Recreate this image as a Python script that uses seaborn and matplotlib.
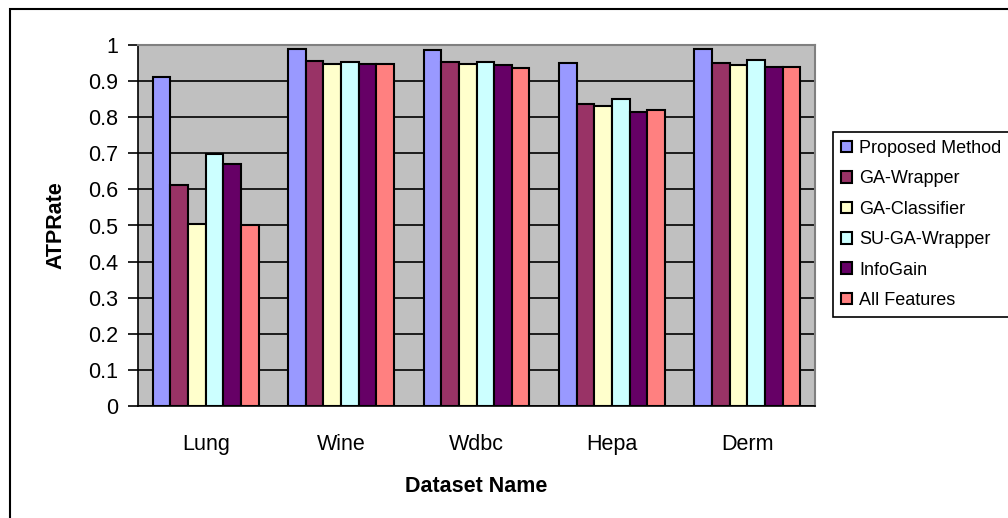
import pandas as pd
import seaborn as sns
from matplotlib import pyplot as plt
from matplotlib.patches import Rectangle

# données
datasets = ["Lung", "Wine", "Wdbc", "Hepa", "Derm"]
methods = ["Proposed Method", "GA-Wrapper", "GA-Classifier", "SU-GA-Wrapper", "InfoGain", "All Features"]
proposed = [0.91, 0.99, 0.985, 0.95, 0.99]
ga_wrapper = [0.612, 0.957, 0.953, 0.836, 0.95]
ga_classifier = [0.503, 0.948, 0.948, 0.831, 0.944]
su_ga_wrapper = [0.698, 0.953, 0.953, 0.85, 0.958]
infogain = [0.67, 0.948, 0.944, 0.814, 0.94]
all_features = [0.5, 0.948, 0.935, 0.819, 0.94]
colors = ["#9999FF", "#993366", "#FFFFCC", "#CCFFFF", "#660066", "#FF8080"]

series = [proposed, ga_wrapper, ga_classifier, su_ga_wrapper, infogain, all_features]
rows = []
for m, vals in zip(methods, series):
    for d, v in zip(datasets, vals):
        rows.append({"Dataset Name": d, "Method": m, "ATPRate": v})
df = pd.DataFrame(rows)

sns.set_style("white")
plt.rcParams['font.family'] = ['Liberation Sans', 'DejaVu Sans']
plt.rcParams['text.color'] = 'black'
plt.rcParams['axes.labelcolor'] = 'black'
plt.rcParams['xtick.color'] = 'black'
plt.rcParams['ytick.color'] = 'black'

fig = plt.figure(figsize=(10.08, 5.18), dpi=100)
ax = fig.add_axes([138 / 1008, 1 - 406 / 518, 677 / 1008, 361 / 518])

sns.barplot(data=df, x="Dataset Name", y="ATPRate", hue="Method", order=datasets,
            hue_order=methods, palette=colors, width=0.78, edgecolor="black",
            linewidth=1.5, saturation=1, ax=ax, zorder=3)

ax.set_facecolor("#C0C0C0")
ax.set_ylim(0, 1)
ax.set_xlim(-0.5, 4.5)
ax.set_yticks([i / 10 for i in range(11)])
ax.set_yticklabels(["0"] + ["0.%d" % i for i in range(1, 10)] + ["1"])
ax.yaxis.grid(True, color="black", linewidth=1.2, zorder=0)
ax.set_axisbelow(True)

# graduations x entre les catégories
ax.set_xticks([i - 0.5 for i in range(6)], minor=True)
ax.tick_params(axis="x", which="major", length=0, labelsize=15.5, pad=20)
ax.tick_params(axis="x", which="minor", length=6, width=1.2, color="black", direction="out")
ax.tick_params(axis="y", length=7, width=1.2, color="black", direction="out", labelsize=15.5, pad=7, left=True)

for side in ["left", "bottom"]:
    ax.spines[side].set_color("black")
    ax.spines[side].set_linewidth(1.2)
for side in ["top", "right"]:
    ax.spines[side].set_color("#808080")
    ax.spines[side].set_linewidth(1.5)

ax.set_xlabel("Dataset Name", fontsize=15.5, fontweight="bold", labelpad=15)
ax.set_ylabel("ATPRate", fontsize=15.5, fontweight="bold", labelpad=16)

handles, labels = ax.get_legend_handles_labels()
ax.get_legend().remove()
leg = fig.legend(handles, labels, loc="upper left", bbox_to_anchor=(833 / 1008, 1 - 132 / 518),
                 fontsize=13, frameon=True, fancybox=False, edgecolor="black", framealpha=1,
                 handlelength=0.6, handleheight=0.6, handletextpad=0.4, labelspacing=0.74,
                 borderpad=0.45, borderaxespad=0)
leg.get_frame().set_linewidth(1.2)

# cadre de la figure
fig.patches.append(Rectangle((10 / 1008, -0.1), 1.2, 1 - 9 / 518 + 0.1, transform=fig.transFigure,
                             fill=False, edgecolor="black", linewidth=1.5))

plt.savefig("out.png", dpi=100)
